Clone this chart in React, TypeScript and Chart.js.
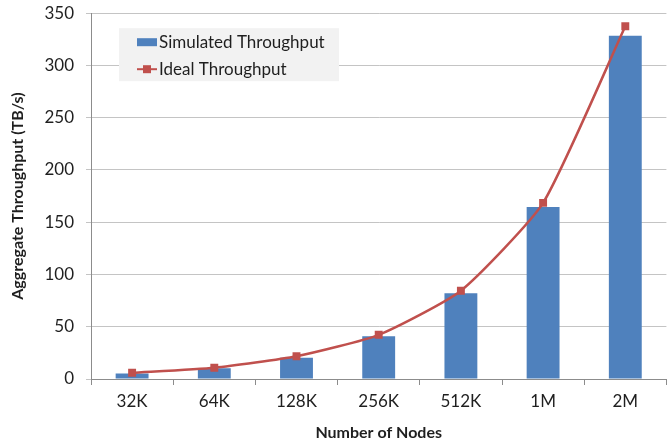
import React, { useEffect, useRef } from "react";
import { Chart, registerables } from "chart.js";

Chart.register(...registerables);

const categories = ["32K", "64K", "128K", "256K", "512K", "1M", "2M"];
const simulatedThroughput = [5.3, 10.3, 20.4, 41, 82, 164.5, 328.5];
const idealThroughput = [6, 10.8, 21.8, 42.3, 84.5, 168.5, 337.5];
const yTicks = [0, 50, 100, 150, 200, 250, 300, 350];

const FONT = "Lato, 'Open Sans', sans-serif";
const TEXT = "#1f1f1f";
const BLUE = "#4F81BD";
const RED = "#C0504D";

const legendPlugin = {
  id: "insideLegend",
  afterDatasetsDraw(chart: any) {
    const { ctx, chartArea } = chart;
    const x0 = chartArea.left + 28;
    const y0 = chartArea.top + 15;
    const w = 220;
    const h = 53;
    ctx.save();
    ctx.fillStyle = "#f2f2f2";
    ctx.fillRect(x0, y0, w, h);
    ctx.font = `17px ${FONT}`;
    ctx.textBaseline = "middle";
    ctx.fillStyle = BLUE;
    ctx.fillRect(x0 + 18, y0 + 10, 20, 8);
    ctx.fillStyle = TEXT;
    ctx.fillText("Simulated Throughput", x0 + 40, y0 + 14);
    ctx.strokeStyle = RED;
    ctx.lineWidth = 2;
    ctx.beginPath();
    ctx.moveTo(x0 + 18, y0 + 41);
    ctx.lineTo(x0 + 38, y0 + 41);
    ctx.stroke();
    ctx.fillStyle = RED;
    ctx.fillRect(x0 + 24, y0 + 37, 8, 8);
    ctx.fillStyle = TEXT;
    ctx.fillText("Ideal Throughput", x0 + 40, y0 + 41);
    ctx.restore();
  },
};

export default function App() {
  const ref = useRef<HTMLCanvasElement | null>(null);
  useEffect(() => {
    if (!ref.current) return;
    const chart = new Chart(ref.current, {
      type: "bar",
      data: {
        labels: categories,
        datasets: [
          {
            type: "line",
            label: "Ideal Throughput",
            data: idealThroughput,
            borderColor: RED,
            backgroundColor: RED,
            borderWidth: 2.5,
            pointStyle: "rect",
            pointRadius: 5.6,
            pointBackgroundColor: RED,
            pointBorderWidth: 0,
            tension: 0.18,
            order: 0,
          } as any,
          {
            type: "bar",
            label: "Simulated Throughput",
            data: simulatedThroughput,
            backgroundColor: BLUE,
            borderWidth: 0,
            barPercentage: 0.4,
            categoryPercentage: 1,
            order: 1,
          },
        ],
      },
      plugins: [legendPlugin],
      options: {
        responsive: false,
        animation: false,
        layout: { padding: { top: 3, right: 0, bottom: 0, left: 0 } },
        plugins: {
          legend: { display: false },
          tooltip: { enabled: false },
        },
        scales: {
          x: {
            offset: true,
            grid: {
              offset: true,
              drawOnChartArea: false,
              drawTicks: true,
              tickLength: 6,
              color: "#8c8c8c",
            },
            border: { color: "#8c8c8c" },
            ticks: {
              color: TEXT,
              font: { family: FONT, size: 17 },
              padding: 6,
            },
            title: {
              display: true,
              text: "Number of Nodes",
              color: TEXT,
              font: { family: FONT, size: 16, weight: "bold" },
              padding: { top: 0, bottom: 1 },
            },
            afterFit(scale: any) {
              scale.height = 64;
            },
          },
          y: {
            min: 0,
            max: 350,
            afterBuildTicks(scale: any) {
              scale.ticks = yTicks.map((v) => ({ value: v }));
            },
            grid: {
              color: "#c4c4c4",
              tickLength: 5,
            },
            border: { color: "#8c8c8c" },
            ticks: {
              color: TEXT,
              font: { family: FONT, size: 17 },
              padding: 12,
            },
            title: {
              display: true,
              text: "Aggregate Throughput (TB/s)",
              color: TEXT,
              font: { family: FONT, size: 16, weight: "bold" },
              padding: { top: 8, bottom: 0 },
            },
            afterFit(scale: any) {
              scale.width = 91;
            },
          },
        },
      } as any,
    });
    return () => chart.destroy();
  }, []);

  return (
    <div
      style={{
        position: "absolute",
        left: 0,
        top: 0,
        width: 668,
        height: 443,
        overflow: "hidden",
        background: "#fff",
      }}
    >
      <canvas
        ref={ref}
        width={672}
        height={452}
        style={{ display: "block", marginTop: -9 }}
      />
    </div>
  );
}
